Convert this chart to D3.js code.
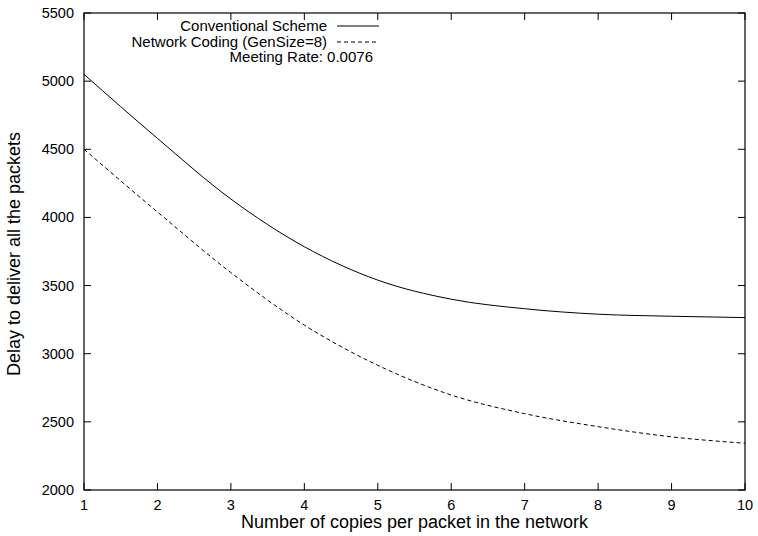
<!DOCTYPE html>
<html><head><meta charset="utf-8">
<script src="https://cdn.jsdelivr.net/npm/d3@7"></script>
<style>body{margin:0;background:#fff}svg{display:block}text{font-family:"Liberation Sans",Arial,sans-serif}</style>
</head><body><svg id="c" width="758" height="536"></svg>
<script>
const copies = [1,2,3,4,5,6,7,8,9,10];
const conventional = [5050,4580,4135,3785,3540,3400,3330,3290,3275,3265];
const networkCoding = [4500,4040,3595,3210,2915,2697,2560,2465,2390,2343];
const xTicks = [1,2,3,4,5,6,7,8,9,10];
const yTicks = [2000,2500,3000,3500,4000,4500,5000,5500];
const seriesNames = ["Conventional Scheme","Network Coding (GenSize=8)"];
const annotation = "Meeting Rate: 0.0076";

const L=84,R=745,T=13,B=490,fs="14.5px",fl="15px",ft="18px";
const svg=d3.select("#c");
const x=d3.scaleLinear().domain([1,10]).range([L,R]);
const y=d3.scaleLinear().domain([2000,5500]).range([B,T]);
const tl=7;

// tick marks (inward, mirrored)
const g=svg.append("g").attr("stroke","#000").attr("stroke-width",1);
xTicks.forEach(t=>{
  g.append("line").attr("x1",x(t)).attr("x2",x(t)).attr("y1",B).attr("y2",B-tl);
  g.append("line").attr("x1",x(t)).attr("x2",x(t)).attr("y1",T).attr("y2",T+tl);
});
yTicks.forEach(t=>{
  g.append("line").attr("y1",y(t)).attr("y2",y(t)).attr("x1",L).attr("x2",L+tl);
  g.append("line").attr("y1",y(t)).attr("y2",y(t)).attr("x1",R).attr("x2",R-tl);
});
svg.append("rect").attr("x",L).attr("y",T).attr("width",R-L).attr("height",B-T)
  .attr("fill","none").attr("stroke","#000").attr("stroke-width",1.2);

// tick labels
svg.append("g").selectAll("text").data(xTicks).join("text")
  .attr("x",d=>x(d)).attr("y",B+20).attr("text-anchor","middle").attr("font-size",fs).text(d=>d);
svg.append("g").selectAll("text").data(yTicks).join("text")
  .attr("x",L-10).attr("y",d=>y(d)+5).attr("text-anchor","end").attr("font-size",fs).text(d=>d);

// axis titles
svg.append("text").attr("x",(L+R)/2).attr("y",528).attr("text-anchor","middle").attr("font-size",ft)
  .text("Number of copies per packet in the network");
svg.append("text").attr("transform",`translate(20,254) rotate(-90)`).attr("text-anchor","middle")
  .attr("font-size",ft).text("Delay to deliver all the packets");

// lines
const line=d3.line().x((d,i)=>x(copies[i])).y(d=>y(d)).curve(d3.curveMonotoneX);
svg.append("path").attr("d",line(conventional)).attr("fill","none").attr("stroke","#000").attr("stroke-width",1);
svg.append("path").attr("d",line(networkCoding)).attr("fill","none").attr("stroke","#000").attr("stroke-width",1).attr("stroke-dasharray","4,3");

// legend
const lx=327, ly=[26,42];
seriesNames.forEach((n,i)=>{
  svg.append("text").attr("x",lx).attr("y",ly[i]+5).attr("text-anchor","end").attr("font-size",fl).text(n);
  svg.append("line").attr("x1",337).attr("x2",379).attr("y1",ly[i]).attr("y2",ly[i]).attr("stroke","#000")
    .attr("stroke-width",1).attr("stroke-dasharray",i?"4,3":null);
});
svg.append("text").attr("x",373).attr("y",62).attr("text-anchor","end").attr("font-size",fl).text(annotation);
</script></body></html>
